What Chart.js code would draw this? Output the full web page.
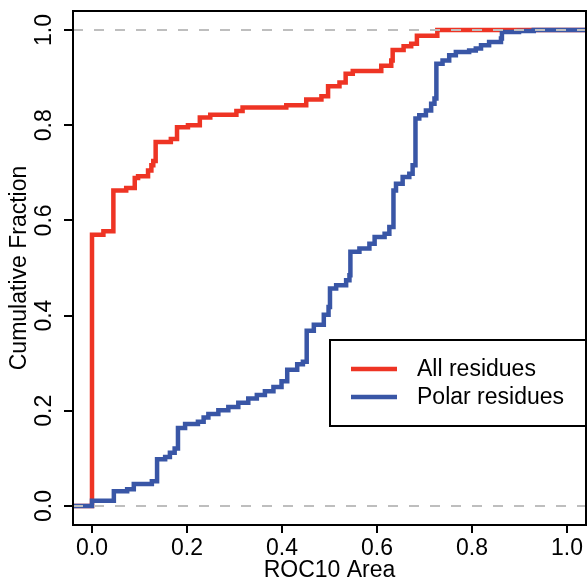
<!DOCTYPE html>
<html lang="en">
<head>
<meta charset="UTF-8">
<title>ROC10 Area</title>
<script src="https://cdn.jsdelivr.net/npm/chart.js"></script>
<style>
  html, body { margin: 0; padding: 0; background: #fff; }
  #wrap { width: 587px; height: 583px; }
</style>
</head>
<body>
<div id="wrap"><canvas id="chart" width="587" height="583"></canvas></div>
<script>
  // ECDF steps: ROC10 area where the curve jumps, and the fraction after the jump
  const allX = [0.000, 0.024, 0.045, 0.072, 0.090, 0.097, 0.118, 0.125, 0.129, 0.134,
                0.166, 0.179, 0.202, 0.227, 0.249, 0.304, 0.317, 0.409, 0.451, 0.483,
                0.497, 0.521, 0.534, 0.549, 0.609, 0.630, 0.633, 0.656, 0.672, 0.684, 0.727];
  const allY = [0.570, 0.577, 0.663, 0.668, 0.689, 0.693, 0.705, 0.716, 0.725, 0.765,
                0.771, 0.796, 0.800, 0.816, 0.822, 0.830, 0.837, 0.842, 0.854, 0.861,
                0.882, 0.890, 0.908, 0.914, 0.925, 0.936, 0.958, 0.966, 0.971, 0.988, 1.000];

  const polarX = [0.000, 0.046, 0.074, 0.088, 0.126, 0.137, 0.154, 0.164, 0.174, 0.181,
                  0.196, 0.223, 0.235, 0.245, 0.266, 0.287, 0.308, 0.329, 0.347, 0.364,
                  0.382, 0.399, 0.411, 0.432, 0.444, 0.452, 0.467, 0.488, 0.498, 0.501,
                  0.514, 0.535, 0.542, 0.544, 0.563, 0.584, 0.595, 0.616, 0.626, 0.634,
                  0.635, 0.640, 0.654, 0.668, 0.675, 0.681, 0.689, 0.703, 0.714, 0.721,
                  0.725, 0.738, 0.752, 0.766, 0.794, 0.808, 0.819, 0.836, 0.861, 0.863,
                  0.899, 0.930];
  const polarY = [0.011, 0.031, 0.035, 0.046, 0.052, 0.098, 0.103, 0.112, 0.121, 0.164,
                  0.172, 0.177, 0.186, 0.193, 0.201, 0.208, 0.217, 0.226, 0.233, 0.241,
                  0.250, 0.262, 0.286, 0.298, 0.303, 0.368, 0.381, 0.402, 0.418, 0.457,
                  0.464, 0.474, 0.485, 0.534, 0.541, 0.551, 0.565, 0.572, 0.586, 0.600,
                  0.663, 0.677, 0.691, 0.698, 0.716, 0.814, 0.821, 0.831, 0.845, 0.856,
                  0.929, 0.936, 0.947, 0.954, 0.957, 0.961, 0.968, 0.975, 0.982, 0.996,
                  0.998, 1.000];

  const seriesNames = ['All residues', 'Polar residues'];
  const refLevels = [0, 1];

  const xTicks = [0, 0.2, 0.4, 0.6, 0.8, 1.0];
  const xTickLabels = ['0.0', '0.2', '0.4', '0.6', '0.8', '1.0'];
  const yTicks = [0, 0.2, 0.4, 0.6, 0.8, 1.0];
  const yTickLabels = ['0.0', '0.2', '0.4', '0.6', '0.8', '1.0'];

  const xMin = -0.04, xMax = 1.04;
  const yMin = -0.04, yMax = 1.04;

  const RED = 'rgb(238, 52, 36)';
  const BLUE = 'rgb(57, 86, 166)';
  const FONT = '"Liberation Sans", Arial, Helvetica, sans-serif';

  // turn the jump list into a step path that runs across the whole x range
  function steps(xs, ys) {
    const pts = [{ x: xMin, y: 0 }];
    let prev = 0;
    xs.forEach((x, i) => {
      pts.push({ x: x, y: prev });
      pts.push({ x: x, y: ys[i] });
      prev = ys[i];
    });
    pts.push({ x: xMax, y: prev });
    return pts;
  }

  const refSets = refLevels.map(v => ({
    label: 'ref ' + v,
    data: [{ x: xMin, y: v }, { x: xMax, y: v }],
    borderColor: '#bebebe',
    borderWidth: 2,
    borderDash: [10, 11],
    pointRadius: 0,
    inLegend: false
  }));

  const curveSets = [
    { label: seriesNames[1], data: steps(polarX, polarY), borderColor: BLUE },
    { label: seriesNames[0], data: steps(allX, allY), borderColor: RED }
  ].map(d => Object.assign(d, {
    borderWidth: 4.5,
    pointRadius: 0,
    borderJoinStyle: 'miter',
    inLegend: true
  }));

  // frame around the plot and an R style legend box
  const frameAndLegend = {
    id: 'frameAndLegend',
    afterDraw(chart) {
      const ctx = chart.ctx;
      const a = chart.chartArea;
      ctx.save();
      ctx.strokeStyle = '#000';
      ctx.lineWidth = 2;
      ctx.strokeRect(a.left, a.top, a.right - a.left, a.bottom - a.top);

      const bx = a.left + 257, by = a.top + 329, bw = a.right - a.left - 257, bh = 86;
      ctx.strokeRect(bx, by, bw, bh);

      const items = chart.data.datasets.filter(d => d.inLegend).reverse();
      ctx.font = '23px ' + FONT;
      ctx.textBaseline = 'middle';
      ctx.textAlign = 'left';
      items.forEach((d, i) => {
        const y = by + 29 + i * 28;
        ctx.strokeStyle = d.borderColor;
        ctx.lineWidth = 4.5;
        ctx.beginPath();
        ctx.moveTo(bx + 21, y);
        ctx.lineTo(bx + 67, y);
        ctx.stroke();
        ctx.fillStyle = '#000';
        ctx.fillText(d.label, bx + 87, y + 1);
      });
      ctx.restore();
    }
  };

  const ctx = document.getElementById('chart').getContext('2d');
  const chart = new Chart(ctx, {
    type: 'line',
    data: { datasets: refSets.concat(curveSets) },
    plugins: [frameAndLegend],
    options: {
      responsive: false,
      animation: false,
      devicePixelRatio: 1,
      layout: { padding: { top: 11, right: 1, bottom: 0, left: 0 } },
      plugins: {
        legend: { display: false },
        tooltip: { enabled: false }
      },
      scales: {
        x: {
          type: 'linear',
          min: xMin,
          max: xMax,
          afterBuildTicks: s => { s.ticks = xTicks.map(v => ({ value: v })); },
          afterFit: s => { s.height = 58; s.paddingLeft = 0; s.paddingRight = 0; },
          border: { display: false },
          grid: { drawOnChartArea: false, drawTicks: true, tickLength: 8, color: '#000', lineWidth: 2 },
          ticks: {
            color: '#000',
            font: { family: FONT, size: 23 },
            padding: 2,
            maxRotation: 0,
            autoSkip: false,
            callback: (v, i) => xTickLabels[i]
          },
          title: {
            display: true,
            text: 'ROC10 Area',
            color: '#000',
            font: { family: FONT, size: 23, lineHeight: 1 },
            padding: { top: 0, bottom: 1 }
          }
        },
        y: {
          type: 'linear',
          min: yMin,
          max: yMax,
          afterBuildTicks: s => { s.ticks = yTicks.map(v => ({ value: v })); },
          afterFit: s => { s.width = 73; s.paddingTop = 0; s.paddingBottom = 0; },
          border: { display: false },
          grid: { drawOnChartArea: false, drawTicks: true, tickLength: 9, color: '#000', lineWidth: 2 },
          ticks: {
            color: '#000',
            font: { family: FONT, size: 23 },
            padding: 3,
            minRotation: 90,
            maxRotation: 90,
            crossAlign: 'center',
            autoSkip: false,
            callback: (v, i) => yTickLabels[i]
          },
          title: {
            display: true,
            text: 'Cumulative Fraction',
            color: '#000',
            font: { family: FONT, size: 23, lineHeight: 1 },
            padding: { top: 8, bottom: 0 }
          }
        }
      }
    }
  });
</script>
</body>
</html>
